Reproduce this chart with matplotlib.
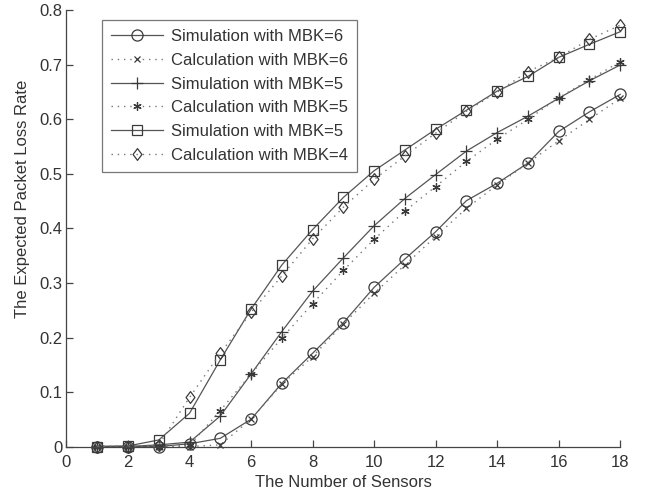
import matplotlib
matplotlib.use("Agg")
import matplotlib.pyplot as plt
import numpy as np
from matplotlib.path import Path

plt.rcParams["font.family"] = ["Liberation Sans", "DejaVu Sans"]

# number of sensors
sensors = np.arange(1, 19)

sim_mbk6 = [0, 0, 0, 0.005, 0.015, 0.050, 0.116, 0.171, 0.227, 0.292, 0.344, 0.394,
            0.451, 0.483, 0.520, 0.578, 0.614, 0.646]
calc_mbk6 = [0, 0, 0, 0, 0.003, 0.050, 0.114, 0.165, 0.225, 0.281, 0.333, 0.385,
             0.437, 0.480, 0.520, 0.561, 0.600, 0.639]
sim_mbk5 = [0, 0, 0.003, 0.008, 0.056, 0.133, 0.211, 0.285, 0.346, 0.405, 0.455, 0.499,
            0.542, 0.576, 0.606, 0.639, 0.671, 0.700]
calc_mbk5 = [0, 0, 0, 0.002, 0.066, 0.133, 0.199, 0.262, 0.323, 0.380, 0.432, 0.477,
             0.523, 0.564, 0.600, 0.640, 0.673, 0.706]
sim_mbk4 = [0, 0.001, 0.012, 0.061, 0.159, 0.252, 0.333, 0.398, 0.457, 0.506, 0.544, 0.582,
            0.617, 0.652, 0.679, 0.714, 0.738, 0.761]
calc_mbk4 = [0, 0, 0.003, 0.090, 0.171, 0.246, 0.313, 0.381, 0.439, 0.490, 0.533, 0.575,
             0.615, 0.650, 0.688, 0.714, 0.747, 0.773]

labels = [
    "Simulation with MBK=6",
    "Calculation with MBK=6",
    "Simulation with MBK=5",
    "Calculation with MBK=5",
    "Simulation with MBK=5",
    "Calculation with MBK=4",
]

LINE = "#555555"
MARK = "#3a3a3a"
TEXT = "#333333"
asterisk = (6, 2, 0)
# matlab-ish diamond (a bit narrower than tall)
diamond = Path([(0, 1), (0.75, 0), (0, -1), (-0.75, 0), (0, 1)],
               [Path.MOVETO, Path.LINETO, Path.LINETO, Path.LINETO, Path.CLOSEPOLY])

fig = plt.figure(figsize=(6.48, 4.97), dpi=100)
ax = fig.add_axes([0.1026, 0.1016, 0.8545, 0.8773])

solid = dict(color=LINE, linewidth=0.9, markerfacecolor="none",
             markeredgecolor=MARK, markeredgewidth=0.9, clip_on=False)
dotted = dict(color="#777777", linewidth=1.0, linestyle=(0, (1, 3.5)),
              markerfacecolor="none", markeredgecolor=MARK, markeredgewidth=0.9,
              clip_on=False)

ax.plot(sensors, sim_mbk6, marker="o", markersize=8, label=labels[0], **solid)
ax.plot(sensors, calc_mbk6, marker="x", markersize=5, label=labels[1], **dotted)
ax.plot(sensors, sim_mbk5, marker="+", markersize=9, label=labels[2], **solid)
ax.plot(sensors, calc_mbk5, marker=asterisk, markersize=6, label=labels[3], **dotted)
ax.plot(sensors, sim_mbk4, marker="s", markersize=7.5, label=labels[4], **solid)
ax.plot(sensors, calc_mbk4, marker=diamond, markersize=8.5, label=labels[5], **dotted)

ax.set_xlim(0, 18)
ax.set_ylim(0, 0.8)
ax.set_xticks(np.arange(0, 19, 2))
ax.set_yticks(np.arange(0, 0.81, 0.1))
ax.set_yticklabels(["0", "0.1", "0.2", "0.3", "0.4", "0.5", "0.6", "0.7", "0.8"])

for s in ["top", "right"]:
    ax.spines[s].set_visible(False)
for s in ["left", "bottom"]:
    ax.spines[s].set_color("#444444")
    ax.spines[s].set_linewidth(0.9)
ax.tick_params(direction="in", length=5, width=0.9, colors="#444444",
               labelcolor=TEXT, labelsize=12)
ax.tick_params(axis="x", pad=6)
ax.tick_params(axis="y", pad=3)

ax.set_xlabel("The Number of Sensors", fontsize=12, color=TEXT, labelpad=4)
ax.set_ylabel("The Expected Packet Loss Rate", fontsize=12, color=TEXT)
ax.yaxis.set_label_coords(-0.066, 0.569)

leg = ax.legend(loc="upper left", bbox_to_anchor=(0.064, 0.978), fontsize=12,
                fancybox=False, handlelength=3.1, borderpad=0.55,
                labelspacing=0.52, handletextpad=0.48, borderaxespad=0)
leg.get_frame().set_edgecolor("#555555")
leg.get_frame().set_linewidth(0.9)
for t in leg.get_texts():
    t.set_color(TEXT)

fig.savefig("out.png", dpi=100)
